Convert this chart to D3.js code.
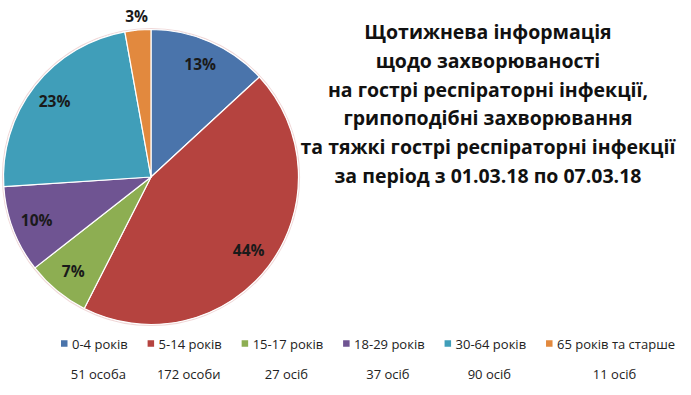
<!DOCTYPE html>
<html><head><meta charset="utf-8">
<script src="https://cdn.jsdelivr.net/npm/d3@7"></script>
<style>
html,body{margin:0;padding:0;background:#fff;}
svg{display:block;}
text{font-family:"Open Sans","Noto Sans",sans-serif;}
</style></head>
<body>
<svg id="chart" width="691" height="395"></svg>
<script>
const categories = ["0-4 років","5-14 років","15-17 років","18-29 років","30-64 років","65 років та старше"];
const values = [51,172,27,37,90,11];
const countLabels = ["51 особа","172 особи","27 осіб","37 осіб","90 осіб","11 осіб"];
const colors = ["#4A74AB","#B5433F","#8DAE52","#6F5492","#409EB9","#E2893E"];
const titleLines = ["Щотижнева інформація","щодо захворюваності","на гострі респіраторні інфекції,","грипоподібні захворювання","та тяжкі гострі респіраторні інфекції","за період з 01.03.18 по 07.03.18"];

const svg = d3.select("#chart");
const cx = 151, cy = 177, R = 147.5;
const total = d3.sum(values);

const pie = d3.pie().sort(null).value(d => d)(values);
const arc = d3.arc().innerRadius(0).outerRadius(R);
const labelArc = d3.arc().innerRadius(R*0.83).outerRadius(R*0.83);
const outArc = d3.arc().innerRadius(R+14).outerRadius(R+14);

const g = svg.append("g").attr("transform", `translate(${cx},${cy})`);
g.append("circle").attr("r", R+1).attr("fill","none").attr("stroke","#f0d8d8").attr("stroke-width",1.2);
g.selectAll("path.slice").data(pie).enter().append("path")
  .attr("class","slice")
  .attr("d", arc)
  .attr("fill", (d,i) => colors[i])
  .attr("stroke","#fff").attr("stroke-width",1.2).attr("stroke-linejoin","round");

g.selectAll("text.pct").data(pie).enter().append("text")
  .attr("class","pct")
  .attr("transform", d => {
    const small = (d.data/total) < 0.05;
    const p = (small ? outArc : labelArc).centroid(d);
    return `translate(${p[0]},${p[1]})`;
  })
  .attr("text-anchor","middle").attr("dy","0.36em")
  .attr("font-size",15.5).attr("font-weight","bold").attr("fill","#1a1a1a")
  .text(d => Math.round(d.data/total*100) + "%");

// Title
const tx = 488;
const title = svg.append("g");
const baselines = d3.range(titleLines.length).map(i => 39 + i*28.8);
const tl = title.selectAll("text").data(titleLines).enter().append("text")
  .attr("x", tx).attr("y", (d,i) => baselines[i])
  .attr("text-anchor","middle").attr("font-weight","bold").attr("font-size",17)
  .attr("fill","#111").text(d => d);
let maxW = 0; tl.each(function(){ maxW = Math.max(maxW, this.getComputedTextLength()); });
tl.attr("font-size", 17 * 375 / maxW);

// Legend
const legY = 344, sq = 6.5, lfs = 13;
const leg = svg.append("g");
const items = leg.selectAll("g").data(categories).enter().append("g");
items.append("rect").attr("width",sq).attr("height",sq).attr("y",legY-sq/2-0.5).attr("fill",(d,i)=>colors[i]);
const lt = items.append("text").attr("y",legY).attr("dy","0.35em").attr("font-size",lfs).attr("fill","#222").text(d=>d);
const widths = []; lt.each(function(){ widths.push(this.getComputedTextLength()); });
const gapSq = 11;
const sumText = d3.sum(widths) + gapSq*widths.length;
const gapItem = ((675-61) - sumText) / (widths.length-1);
let x = 0; const starts = [];
widths.forEach(w => { starts.push(x); x += gapSq + w + gapItem; });
const x0 = 61;
items.attr("transform",(d,i)=>`translate(${x0+starts[i]},0)`);
lt.attr("x", gapSq);

// counts row
svg.append("g").selectAll("text").data(countLabels).enter().append("text")
  .attr("x",(d,i)=> x0 + starts[i] + (gapSq + widths[i])/2 + 4)
  .attr("y",374).attr("dy","0.35em").attr("text-anchor","middle")
  .attr("font-size",lfs).attr("fill","#222").text(d=>d);
</script>
</body></html>
